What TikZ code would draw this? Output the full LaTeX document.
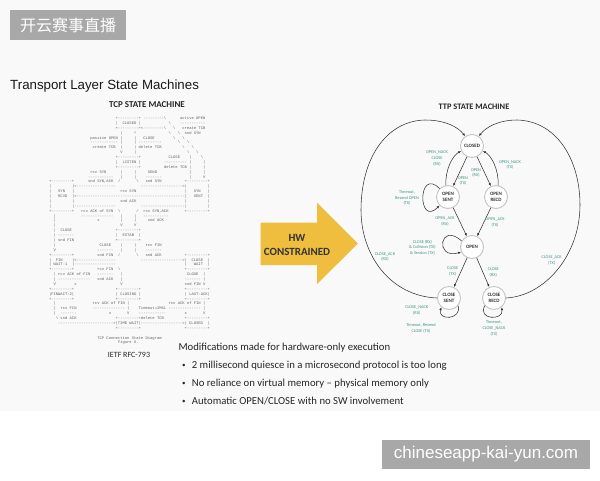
\documentclass[tikz,border=0pt]{standalone}
\usepackage{fontspec}
\setmainfont{Carlito}
\setmonofont{Liberation Mono}
\newfontfamily\arialfont{Liberation Sans}
\newfontfamily\cjkfont{Noto Sans CJK SC}
\usepackage{xcolor}
\definecolor{slidebg}{HTML}{F9F9F9}
\definecolor{markgray}{HTML}{A8A8A8}
\definecolor{hwgold}{HTML}{EFBE3F}
\definecolor{ttpteal}{HTML}{3F9384}
\definecolor{ttpline}{HTML}{333333}
\definecolor{ttpring}{HTML}{C4C4C4}
\definecolor{slidetext}{HTML}{262626}
\usepackage{tikz}
\usetikzlibrary{arrows.meta,calc}
\newcommand{\asciibs}{\textbackslash}
\tikzset{
  >={Latex[length=3pt,width=2.4pt]},
  every picture/.style={line cap=round, line join=round},
  wmbox/.style={fill=markgray, text=white, inner sep=0},
  ascii/.style={font=\ttfamily\fontsize{3.83}{4}\selectfont, text=black!62, anchor=base west, inner sep=0},
  ttpstate/.style={circle, draw=ttpring, line width=0.9pt, fill=white, minimum size=23pt, inner sep=0,
    font=\bfseries\fontsize{5}{5.6}\selectfont, text=black!80, align=center},
  tr/.style={->, draw=ttpline, line width=0.55pt},
  cond/.style={font=\fontsize{4.3}{5.7}\selectfont, text=ttpteal, align=center, inner sep=0},
  head/.style={font=\bfseries\fontsize{9}{10}\selectfont, text=black!85},
  body/.style={font=\fontsize{10.7}{12}\selectfont, text=slidetext, anchor=base west, inner sep=0},
}

\begin{document}
\begin{tikzpicture}[x=1pt, y=-1pt]
\useasboundingbox (0,0) rectangle (600,480);
\fill[slidebg] (0,0) rectangle (600,411);
% watermarks
\node[wmbox, minimum width=116pt, minimum height=30pt, font=\cjkfont\fontsize{16}{16}\selectfont] (wmtop) at (68,25) {开云赛事直播};
\node[wmbox, minimum width=208pt, minimum height=29pt, font=\arialfont\fontsize{17}{17}\selectfont] (wmbottom) at (486,454.5) {chineseapp-kai-yun.com};
% titles
\node[font=\arialfont\fontsize{13.3}{15}\selectfont, text=black!90, anchor=base west, inner sep=0] (title) at (10,89.5) {Transport Layer State Machines};
\node[head] (tcphead) at (147,105) {TCP STATE MACHINE};
\node[head, font=\bfseries\fontsize{8.4}{10}\selectfont] (ttphead) at (474,106.5) {TTP STATE MACHINE};
% TCP diagram, RFC 793 style
\foreach \r/\c/\s in {
  0/30/{+---------+ ---------\asciibs}, 0/58/{active OPEN},
  1/30/{|}, 1/33/{CLOSED |}, 1/53/{\asciibs}, 1/58/{-----------},
  2/30/{+---------+<---------\asciibs}, 2/55/{\asciibs}, 2/59/{create TCB},
  3/32/{|}, 3/38/{\textasciicircum}, 3/53/{\asciibs}, 3/57/{\asciibs}, 3/60/{snd SYN},
  4/19/{passive OPEN |}, 4/38/{|}, 4/42/{CLOSE}, 4/55/{\asciibs}, 4/59/{\asciibs},
  5/19/{------------ |}, 5/38/{| ----------}, 5/57/{\asciibs}, 5/61/{\asciibs},
  6/20/{create TCB}, 6/32/{|}, 6/38/{| delete TCB}, 6/59/{\asciibs}, 6/63/{\asciibs},
  7/32/{V}, 7/38/{|}, 7/61/{\asciibs}, 7/65/{\asciibs},
  8/30/{+---------+}, 8/53/{CLOSE}, 8/62/{|}, 8/67/{\asciibs},
  9/30/{|}, 9/33/{LISTEN |}, 9/51/{---------- |}, 9/68/{|},
  10/30/{+---------+}, 10/51/{delete TCB |}, 10/68/{|},
  11/19/{rcv SYN}, 11/32/{|}, 11/38/{|}, 11/44/{SEND}, 11/62/{|}, 11/68/{|},
  12/18/{-----------}, 12/32/{|}, 12/38/{|}, 12/43/{-------}, 12/62/{|}, 12/68/{V},
  13/1/{+---------+}, 13/18/{snd SYN,ACK}, 13/31/{/}, 13/39/{\asciibs}, 13/43/{snd SYN}, 13/60/{+---------+},
  14/1/{|}, 14/11/{|<-----------------}, 14/41/{------------------>|}, 14/70/{|},
  15/1/{|}, 15/5/{SYN}, 15/11/{|}, 15/32/{rcv SYN}, 15/60/{|}, 15/64/{SYN}, 15/70/{|},
  16/1/{|}, 16/5/{RCVD}, 16/11/{|<-----------------------------------------------|}, 16/64/{SENT}, 16/70/{|},
  17/1/{|}, 17/11/{|}, 17/32/{snd ACK}, 17/60/{|}, 17/70/{|},
  18/1/{|}, 18/11/{|------------------}, 18/41/{-------------------|}, 18/70/{|},
  19/1/{+---------+}, 19/15/{rcv ACK of SYN}, 19/31/{\asciibs}, 19/39/{/}, 19/42/{rcv SYN,ACK}, 19/60/{+---------+},
  20/3/{|}, 20/15/{--------------}, 20/32/{|}, 20/38/{|}, 20/42/{-----------},
  21/3/{|}, 21/22/{x}, 21/32/{|}, 21/38/{|}, 21/44/{snd ACK},
  22/3/{|}, 22/32/{V}, 22/38/{V},
  23/3/{|}, 23/6/{CLOSE}, 23/30/{+---------+},
  24/3/{| -------}, 24/30/{|}, 24/33/{ESTAB}, 24/40/{|},
  25/3/{| snd FIN}, 25/30/{+---------+},
  26/3/{|}, 26/23/{CLOSE}, 26/32/{|}, 26/38/{|}, 26/43/{rcv FIN},
  27/3/{V}, 27/22/{-------}, 27/32/{|}, 27/38/{|}, 27/43/{-------},
  28/1/{+---------+}, 28/22/{snd FIN}, 28/31/{/}, 28/39/{\asciibs}, 28/43/{snd ACK}, 28/60/{+---------+},
  29/1/{|}, 29/4/{FIN}, 29/11/{|<-----------------}, 29/41/{------------------>|}, 29/63/{CLOSE}, 29/70/{|},
  30/1/{| WAIT-1}, 30/11/{|------------------}, 30/60/{|}, 30/64/{WAIT}, 30/70/{|},
  31/1/{+---------+}, 31/22/{rcv FIN}, 31/31/{\asciibs}, 31/60/{+---------+},
  32/3/{| rcv ACK of FIN}, 32/22/{-------}, 32/32/{|}, 32/61/{CLOSE}, 32/68/{|},
  33/3/{| --------------}, 33/22/{snd ACK}, 33/32/{|}, 33/60/{------- |},
  34/3/{V}, 34/12/{x}, 34/32/{V}, 34/60/{snd FIN V},
  35/1/{+---------+}, 35/30/{+---------+}, 35/60/{+---------+},
  36/1/{|FINWAIT-2|}, 36/30/{| CLOSING |}, 36/60/{| LAST-ACK|},
  37/1/{+---------+}, 37/30/{+---------+}, 37/60/{+---------+},
  38/3/{|}, 38/20/{rcv ACK of FIN |}, 38/53/{rcv ACK of FIN |},
  39/3/{|}, 39/6/{rcv FIN}, 39/20/{-------------- |}, 39/40/{Timeout=2MSL -------------- |},
  40/3/{|}, 40/6/{-------}, 40/27/{x}, 40/35/{V}, 40/40/{------------}, 40/60/{x}, 40/68/{V},
  41/4/{{\asciibs} snd ACK}, 41/30/{+---------+delete TCB}, 41/60/{+---------+},
  42/5/{------------------------>|TIME WAIT|------------------>| CLOSED}, 42/70/{|},
  43/30/{+---------+}, 43/60/{+---------+},
  45/22/{TCP Connection State Diagram}, 46/31/{Figure 6.}}
  \node[ascii] (tcp-\r-\c) at ({46.5+2.3*\c},{119.5+4.88*\r}) {\s};
\node[font=\fontsize{8}{9}\selectfont, text=slidetext] (rfc) at (129,355) {IETF RFC-793};
% HW arrow
\fill[hwgold] (260.7,222.7) -- (317,222.7) -- (317,202.7) -- (358,243.5) -- (317,284) -- (317,265) -- (260.7,265) -- cycle;
\node[font=\bfseries\fontsize{11}{13.5}\selectfont, text=black!80, align=center] (hw) at (297,245) {HW\\CONSTRAINED};
% TTP states
\node[ttpstate] (closed) at (472,146) {CLOSED};
\node[ttpstate] (osent) at (448,197) {OPEN\\SENT};
\node[ttpstate] (orecd) at (496,197) {OPEN\\RECD};
\node[ttpstate] (open) at (472,247) {OPEN};
\node[ttpstate] (csent) at (449,298) {CLOSE\\SENT};
\node[ttpstate] (crecd) at (494,298) {CLOSE\\RECD};
% transitions
\draw[tr] (osent.100) .. controls ($(osent.100)+(-1,-16)$) and ($(closed.205)+(-8,4)$) .. (closed.205);
\draw[tr] (orecd.80) .. controls ($(orecd.80)+(1,-16)$) and ($(closed.335)+(8,4)$) .. (closed.335);
\draw[tr] (closed) -- (osent);
\draw[tr] (closed) -- (orecd);
\draw[tr] (osent.135) .. controls ($(osent.135)+(-22,-22)$) and ($(osent.225)+(-22,22)$) .. (osent.225);
\draw[tr] (osent) -- (open);
\draw[tr] (orecd) -- (open);
\draw[tr] (open.150) .. controls ($(open.150)+(-22,-20)$) and ($(open.205)+(-27,8)$) .. (open.205);
\draw[tr] (open) -- (csent);
\draw[tr] (open) -- (crecd);
\draw[tr] (csent.320) .. controls ($(csent.320)+(4,14)$) and ($(csent.230)+(-4,14)$) .. (csent.230);
\draw[tr] (crecd.220) .. controls ($(crecd.220)+(-8,14)$) and ($(crecd.310)+(2,14)$) .. (crecd.310);
\draw[tr] (csent.west) .. controls (390,296) and (361,255) .. (361,210)
  .. controls (361,160) and (385,121) .. (425,120) .. controls (445,120) and (458,127) .. (closed.125);
\draw[tr] (crecd.east) .. controls (545,296) and (580,255) .. (580,205)
  .. controls (580,160) and (557,121) .. (517,120) .. controls (499,120) and (486,127) .. (closed.55);
% transition labels
\node[cond] (l-nackrx) at (437,158.5) {OPEN\_NACK\\CLOSE\\(RX)};
\node[cond] (l-opentx) at (463,181) {OPEN\\(TX)};
\node[cond] (l-openrx) at (476,173) {OPEN\\(RX)};
\node[cond] (l-nacktx) at (510,165) {OPEN\_NACK\\(TX)};
\node[cond] (l-resend) at (407,198) {Timeout,\\Resend OPEN\\(TX)};
\node[cond] (l-ackrx) at (445,221.5) {OPEN\_ACK\\(RX)};
\node[cond] (l-acktx) at (495,222.5) {OPEN\_ACK\\(TX)};
\node[cond] (l-collide) at (422.5,247.5) {CLOSE (RX)\\\& Collision (TX)\\\& Session (TX)};
\node[cond] (l-cackrx) at (385,257) {CLOSE\_ACK\\(RX)};
\node[cond] (l-closetx) at (452.7,271.5) {CLOSE\\(TX)};
\node[cond] (l-closerx) at (493.3,272.5) {CLOSE\\(RX)};
\node[cond] (l-cacktx) at (551.7,260.5) {CLOSE\_ACK\\(TX)};
\node[cond] (l-cnackrx) at (416.7,310.5) {CLOSE\_NACK\\(RX)};
\node[cond] (l-cresend) at (421,328) {Timeout, Resend\\CLOSE (TX)};
\node[cond] (l-cnacktx) at (494,328.5) {Timeout,\\CLOSE\_NACK\\(TX)};
% notes
\node[body] (mods) at (178.3,350) {Modifications made for hardware-only execution};
\foreach \i/\yy/\t in {1/368.6/{2 millisecond quiesce in a microsecond protocol is too long},
  2/386.6/{No reliance on virtual memory -- physical memory only},
  3/404.3/{Automatic OPEN/CLOSE with no SW involvement}} {
  \node[body, font=\fontsize{7}{8}\selectfont] (dot\i) at (182,{\yy-1}) {\textbullet};
  \node[body] (item\i) at (191.7,\yy) {\t};
}
\end{tikzpicture}
\end{document}
